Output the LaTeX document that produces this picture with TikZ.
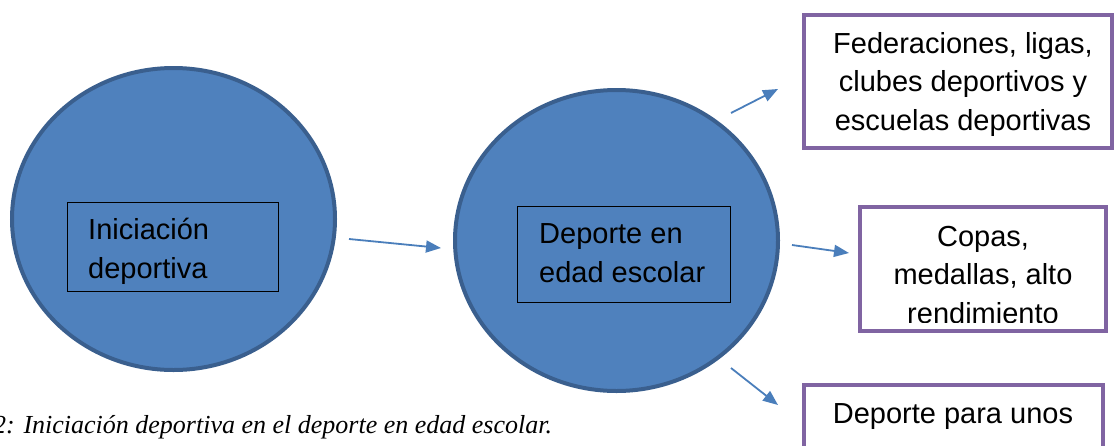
\documentclass[tikz,border=0pt]{standalone}
\usepackage{fontspec}
\setmainfont{Liberation Sans}
\newfontfamily\capfont{Liberation Serif}
\usetikzlibrary{shapes.geometric,arrows.meta}
\definecolor{cfill}{HTML}{4F81BD}
\definecolor{cline}{HTML}{3A5F8E}
\definecolor{purp}{HTML}{8064A2}
\definecolor{arr}{HTML}{4A7EBB}
\tikzset{
  bigcirc/.style={ellipse, draw=cline, fill=cfill, line width=4pt, inner sep=0pt},
  inbox/.style={rectangle, draw=black, line width=1.3pt, inner sep=0pt},
  outbox/.style={rectangle, draw=purp, line width=4pt, fill=white, inner sep=0pt},
  txt/.style={font=\fontsize{29}{38.5}\selectfont, inner sep=0pt, anchor=base},
  conn/.style={draw=arr, line width=1.8pt, -{Triangle[length=15pt,width=12pt]}},
}
\begin{document}
\begin{tikzpicture}[x=1pt,y=-1pt]
\useasboundingbox (0,0) rectangle (1114,445);
% circles
\node[bigcirc, minimum width=323pt, minimum height=302pt] (c1) at (173.5,219) {};
\node[bigcirc, minimum width=323pt, minimum height=301pt] (c2) at (616.5,240.5) {};
% inner boxes
\node[inbox, minimum width=211pt, minimum height=89pt] (b1) at (173,247) {};
\node[inbox, minimum width=213pt, minimum height=96pt] (b2) at (624,254.5) {};
\node[txt, anchor=base west, align=left] (t1) at (88,278) {Iniciación\\deportiva};
\node[txt, anchor=base west, align=left] (t2) at (539,282) {Deporte en\\edad escolar};
% right boxes
\node[outbox, minimum width=308pt, minimum height=133pt] (r1) at (958,81.5) {};
\node[outbox, minimum width=246pt, minimum height=124pt] (r2) at (983,269) {};
\node[outbox, minimum width=299pt, minimum height=85pt] (r3) at (953.5,427.5) {};
\node[txt, align=center] (rt1) at (963,130) {Federaciones, ligas,\\clubes deportivos y\\escuelas deportivas};
\begin{scope}
\clip (862,209) rectangle (1104,322);
\node[txt, align=center] (rt2) at (983,323) {Copas,\\medallas, alto\\rendimiento};
\end{scope}
\node[txt] (rt3) at (953,423) {Deporte para unos};
% connectors
\coordinate (a1s) at (349,239); \coordinate (a1e) at (441,248);
\coordinate (a2s) at (731,113); \coordinate (a2e) at (778,89);
\coordinate (a3s) at (792,245); \coordinate (a3e) at (849,253);
\coordinate (a4s) at (731,368); \coordinate (a4e) at (778,405);
\draw[conn] (a1s) -- (a1e);
\draw[conn] (a2s) -- (a2e);
\draw[conn] (a3s) -- (a3e);
\draw[conn] (a4s) -- (a4e);
% caption
\node[font=\capfont\itshape\fontsize{26}{30}\selectfont, inner sep=0pt, anchor=base west] (cap) at (-7,433) {2: Iniciación deportiva en el deporte en edad escolar.};
\end{tikzpicture}
\end{document}
